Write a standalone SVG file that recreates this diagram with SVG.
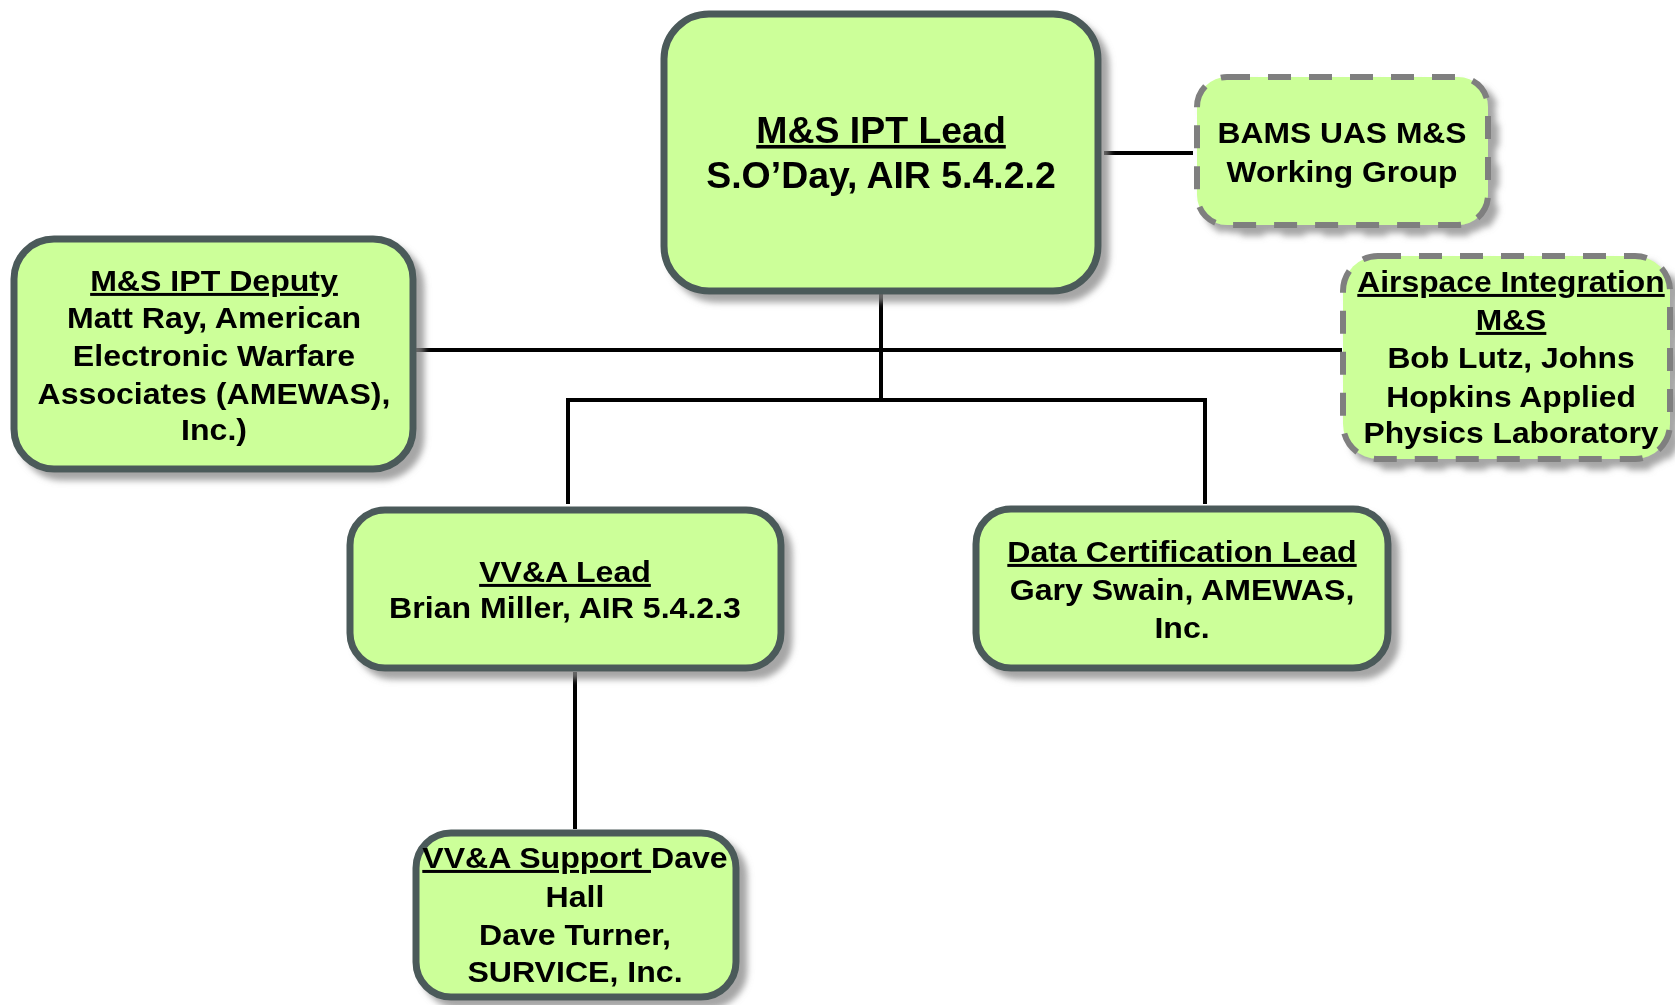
<svg xmlns="http://www.w3.org/2000/svg" width="1675" height="1005" viewBox="0 0 1675 1005">
<style>
.box{fill:#ccff99;stroke:#4b5a5a;stroke-width:7}
.dbox{fill:#ccff99;stroke:#7f7f7f;stroke-width:6;stroke-dasharray:23 18}
.t{font-family:"Liberation Sans",Arial,sans-serif;font-weight:bold;fill:#000;text-anchor:middle}
.big{font-size:36px}
.md{font-size:30px}
.u{text-decoration:underline}
.c{fill:none;stroke:#000;stroke-width:4}
</style>
<defs>
<filter id="sh" x="-10%" y="-10%" width="130%" height="130%">
<feGaussianBlur in="SourceAlpha" stdDeviation="3"/>
<feOffset dx="8" dy="8" result="b"/>
<feFlood flood-color="#888888" flood-opacity="0.75"/>
<feComposite in2="b" operator="in"/>
<feMerge><feMergeNode/><feMergeNode in="SourceGraphic"/></feMerge>
</filter>
</defs>
<rect width="1675" height="1005" fill="#ffffff"/>
<g id="connectors">
<path class="c" d="M1104 153H1193"/>
<path class="c" d="M413 350H1342"/>
<path class="c" d="M881 294V400"/>
<path class="c" d="M568 504V400H1205V504"/>
<path class="c" d="M575 672V829"/>
</g>
<g id="ipt-lead" filter="url(#sh)">
<rect class="box" x="664" y="14" width="434" height="277" rx="45"/>
<g transform="translate(881 0) scale(1.04 1)">
<text class="t big" x="0" y="143"><tspan class="u">M&amp;S IPT Lead</tspan></text>
<text class="t big" x="0" y="188">S.O’Day, AIR 5.4.2.2</text>
</g>
</g>
<g id="bams" filter="url(#sh)">
<rect class="dbox" x="1197" y="77" width="291" height="148" rx="30"/>
<g transform="translate(1342 0) scale(1.06 1)">
<text class="t md" x="0" y="143">BAMS UAS M&amp;S</text>
<text class="t md" x="0" y="182">Working Group</text>
</g>
</g>
<g id="deputy" filter="url(#sh)">
<rect class="box" x="14" y="239" width="399" height="230" rx="40"/>
<g transform="translate(214 0) scale(1.07 1)">
<text class="t md" x="0" y="291"><tspan class="u">M&amp;S IPT Deputy</tspan></text>
<text class="t md" x="0" y="328">Matt Ray, American</text>
<text class="t md" x="0" y="366">Electronic Warfare</text>
<text class="t md" x="0" y="404">Associates (AMEWAS),</text>
<text class="t md" x="0" y="440">Inc.)</text>
</g>
</g>
<g id="airspace" filter="url(#sh)">
<rect class="dbox" x="1343" y="256" width="327" height="203" rx="35"/>
<g transform="translate(1511 0) scale(1.06 1)">
<text class="t md" x="0" y="292"><tspan class="u">Airspace Integration</tspan></text>
<text class="t md" x="0" y="330"><tspan class="u">M&amp;S</tspan></text>
<text class="t md" x="0" y="368">Bob Lutz, Johns</text>
<text class="t md" x="0" y="407">Hopkins Applied</text>
<text class="t md" x="0" y="443">Physics Laboratory</text>
</g>
</g>
<g id="vva-lead" filter="url(#sh)">
<rect class="box" x="350" y="510" width="431" height="158" rx="35"/>
<g transform="translate(565 0) scale(1.07 1)">
<text class="t md" x="0" y="582"><tspan class="u">VV&amp;A Lead</tspan></text>
<text class="t md" x="0" y="618">Brian Miller, AIR 5.4.2.3</text>
</g>
</g>
<g id="data-cert" filter="url(#sh)">
<rect class="box" x="976" y="509" width="412" height="159" rx="35"/>
<g transform="translate(1182 0) scale(1.07 1)">
<text class="t md" x="0" y="562"><tspan class="u">Data Certification Lead</tspan></text>
<text class="t md" x="0" y="600">Gary Swain, AMEWAS,</text>
<text class="t md" x="0" y="638">Inc.</text>
</g>
</g>
<g id="vva-support" filter="url(#sh)">
<rect class="box" x="416" y="833" width="320" height="164" rx="35"/>
<g transform="translate(575 0) scale(1.07 1)">
<text class="t md" x="0" y="868"><tspan class="u">VV&amp;A Support </tspan>Dave</text>
<text class="t md" x="0" y="907">Hall</text>
<text class="t md" x="0" y="945">Dave Turner,</text>
<text class="t md" x="0" y="982">SURVICE, Inc.</text>
</g>
</g>
</svg>
